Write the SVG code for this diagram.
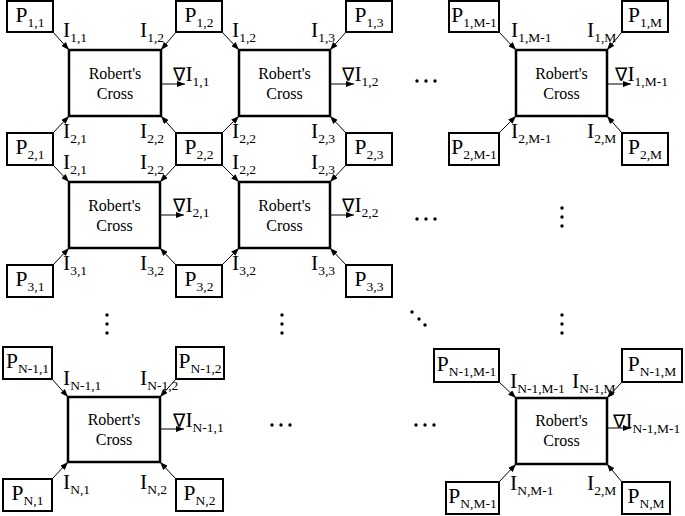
<svg xmlns="http://www.w3.org/2000/svg" width="685" height="516" viewBox="0 0 685 516">
<defs>
<marker id="ah" viewBox="0 0 8 6" refX="8" refY="3" markerWidth="8" markerHeight="6" markerUnits="userSpaceOnUse" orient="auto">
<path d="M0,0 L8,3 L0,6 z" fill="#000"/>
</marker>
<style>
.box{fill:#fff;stroke:#000;stroke-width:2.5}
.pbox{fill:#fff;stroke:#000;stroke-width:2}
text{font-family:"Liberation Serif","DejaVu Serif",serif;fill:#000}
.lbl{font-size:21.5px}
.pt{font-size:21.5px;text-anchor:middle}
.sub{font-size:13.5px}
.nab{font-family:"DejaVu Sans",sans-serif;font-size:18.5px}
.rc{font-size:16px;text-anchor:middle}
.conn line{stroke:#000;stroke-width:1;marker-end:url(#ah)}
.dots circle{fill:#000}
</style>
</defs>
<rect width="685" height="516" fill="#fff"/>

<!-- Robert's Cross nodes -->
<g id="rc11"><rect class="box" x="69" y="50" width="92" height="66"/><text class="rc" x="115" y="79">Robert's</text><text class="rc" x="115" y="99">Cross</text></g>
<g id="rc12"><rect class="box" x="239" y="50" width="91" height="66"/><text class="rc" x="284.5" y="79">Robert's</text><text class="rc" x="284.5" y="99">Cross</text></g>
<g id="rc1M"><rect class="box" x="516" y="50" width="91" height="66"/><text class="rc" x="561.5" y="79">Robert's</text><text class="rc" x="561.5" y="99">Cross</text></g>
<g id="rc21"><rect class="box" x="69" y="182" width="91" height="66"/><text class="rc" x="114.5" y="211">Robert's</text><text class="rc" x="114.5" y="231">Cross</text></g>
<g id="rc22"><rect class="box" x="239" y="182" width="91" height="66"/><text class="rc" x="284.5" y="211">Robert's</text><text class="rc" x="284.5" y="231">Cross</text></g>
<g id="rcN1"><rect class="box" x="68" y="397" width="92" height="65"/><text class="rc" x="114" y="425">Robert's</text><text class="rc" x="114" y="445">Cross</text></g>
<g id="rcNM"><rect class="box" x="516" y="398" width="91" height="66"/><text class="rc" x="561.5" y="426">Robert's</text><text class="rc" x="561.5" y="446">Cross</text></g>

<!-- Pixel nodes -->
<g id="p11"><rect class="pbox" x="7" y="1" width="46" height="31"/><text class="pt" x="30" y="22">P<tspan class="sub" dy="5">1,1</tspan></text></g>
<g id="p12"><rect class="pbox" x="176" y="1" width="46" height="31"/><text class="pt" x="199" y="22">P<tspan class="sub" dy="5">1,2</tspan></text></g>
<g id="p13"><rect class="pbox" x="346" y="1" width="46" height="31"/><text class="pt" x="369" y="22">P<tspan class="sub" dy="5">1,3</tspan></text></g>
<g id="p1Mm1"><rect class="pbox" x="449" y="1" width="50" height="31"/><text class="pt" x="474" y="22">P<tspan class="sub" dy="5">1,M-1</tspan></text></g>
<g id="p1M"><rect class="pbox" x="622" y="1" width="46" height="31"/><text class="pt" x="645" y="22">P<tspan class="sub" dy="5">1,M</tspan></text></g>

<g id="p21"><rect class="pbox" x="7" y="133" width="46" height="32"/><text class="pt" x="30" y="154">P<tspan class="sub" dy="5">2,1</tspan></text></g>
<g id="p22"><rect class="pbox" x="176" y="133" width="46" height="32"/><text class="pt" x="199" y="154">P<tspan class="sub" dy="5">2,2</tspan></text></g>
<g id="p23"><rect class="pbox" x="346" y="133" width="46" height="32"/><text class="pt" x="369" y="154">P<tspan class="sub" dy="5">2,3</tspan></text></g>
<g id="p2Mm1"><rect class="pbox" x="449" y="133" width="50" height="32"/><text class="pt" x="474" y="154">P<tspan class="sub" dy="5">2,M-1</tspan></text></g>
<g id="p2M"><rect class="pbox" x="622" y="133" width="46" height="32"/><text class="pt" x="645" y="154">P<tspan class="sub" dy="5">2,M</tspan></text></g>

<g id="p31"><rect class="pbox" x="7" y="265" width="46" height="32"/><text class="pt" x="30" y="286">P<tspan class="sub" dy="5">3,1</tspan></text></g>
<g id="p32"><rect class="pbox" x="176" y="265" width="46" height="32"/><text class="pt" x="199" y="286">P<tspan class="sub" dy="5">3,2</tspan></text></g>
<g id="p33"><rect class="pbox" x="346" y="265" width="46" height="32"/><text class="pt" x="369" y="286">P<tspan class="sub" dy="5">3,3</tspan></text></g>

<g id="pNm1_1"><rect class="pbox" x="3" y="347" width="49" height="32"/><text class="pt" x="27.5" y="368">P<tspan class="sub" dy="5">N-1,1</tspan></text></g>
<g id="pNm1_2"><rect class="pbox" x="176" y="347" width="48" height="32"/><text class="pt" x="200" y="368">P<tspan class="sub" dy="5">N-1,2</tspan></text></g>
<g id="pNm1_Mm1"><rect class="pbox" x="434" y="349" width="65" height="33"/><text class="pt" x="466.5" y="371">P<tspan class="sub" dy="5">N-1,M-1</tspan></text></g>
<g id="pNm1_M"><rect class="pbox" x="622" y="349" width="60" height="33"/><text class="pt" x="652" y="371">P<tspan class="sub" dy="5">N-1,M</tspan></text></g>

<g id="pN1"><rect class="pbox" x="3" y="479" width="49" height="32"/><text class="pt" x="27.5" y="500">P<tspan class="sub" dy="5">N,1</tspan></text></g>
<g id="pN2"><rect class="pbox" x="176" y="479" width="47" height="32"/><text class="pt" x="199.5" y="500">P<tspan class="sub" dy="5">N,2</tspan></text></g>
<g id="pNMm1"><rect class="pbox" x="446" y="482" width="53" height="32"/><text class="pt" x="472.5" y="503">P<tspan class="sub" dy="5">N,M-1</tspan></text></g>
<g id="pNM"><rect class="pbox" x="622" y="482" width="48" height="32"/><text class="pt" x="646" y="503">P<tspan class="sub" dy="5">N,M</tspan></text></g>

<!-- Connectors -->
<g id="connectors" class="conn">
<line x1="53" y1="32" x2="69" y2="50"/>
<line x1="176" y1="32" x2="161" y2="50"/>
<line x1="53" y1="133" x2="69" y2="116"/>
<line x1="176" y1="133" x2="161" y2="116"/>
<line x1="161" y1="84" x2="185" y2="84"/>

<line x1="222" y1="32" x2="239" y2="50"/>
<line x1="346" y1="32" x2="330" y2="50"/>
<line x1="222" y1="133" x2="239" y2="116"/>
<line x1="346" y1="133" x2="330" y2="116"/>
<line x1="330" y1="84" x2="354" y2="84"/>

<line x1="499" y1="32" x2="516" y2="50"/>
<line x1="622" y1="32" x2="607" y2="50"/>
<line x1="499" y1="133" x2="516" y2="116"/>
<line x1="622" y1="133" x2="607" y2="116"/>
<line x1="607" y1="84" x2="631" y2="84"/>

<line x1="53" y1="165" x2="69" y2="182"/>
<line x1="176" y1="165" x2="160" y2="182"/>
<line x1="53" y1="265" x2="69" y2="248"/>
<line x1="176" y1="265" x2="160" y2="248"/>
<line x1="160" y1="215" x2="184" y2="215"/>

<line x1="222" y1="165" x2="239" y2="182"/>
<line x1="346" y1="165" x2="330" y2="182"/>
<line x1="222" y1="265" x2="239" y2="248"/>
<line x1="346" y1="265" x2="330" y2="248"/>
<line x1="330" y1="215" x2="354" y2="215"/>

<line x1="52" y1="379" x2="68" y2="397"/>
<line x1="176" y1="379" x2="160" y2="397"/>
<line x1="52" y1="479" x2="68" y2="462"/>
<line x1="176" y1="479" x2="160" y2="462"/>
<line x1="160" y1="429" x2="184" y2="429"/>

<line x1="499" y1="382" x2="516" y2="398"/>
<line x1="622" y1="382" x2="607" y2="398"/>
<line x1="499" y1="482" x2="516" y2="464"/>
<line x1="622" y1="482" x2="607" y2="464"/>
<line x1="607" y1="428" x2="631" y2="428"/>
</g>

<!-- Connector labels -->
<g id="labels">
<text class="lbl" x="63" y="37">I<tspan class="sub" dy="5">1,1</tspan></text>
<text class="lbl" x="140" y="37">I<tspan class="sub" dy="5">1,2</tspan></text>
<text class="lbl" x="232" y="37">I<tspan class="sub" dy="5">1,2</tspan></text>
<text class="lbl" x="311" y="37">I<tspan class="sub" dy="5">1,3</tspan></text>
<text class="lbl" x="511" y="37">I<tspan class="sub" dy="5">1,M-1</tspan></text>
<text class="lbl" x="587" y="37">I<tspan class="sub" dy="5">1,M</tspan></text>

<text class="lbl" x="173" y="81"><tspan class="nab">∇</tspan>I<tspan class="sub" dy="5">1,1</tspan></text>
<text class="lbl" x="342" y="81"><tspan class="nab">∇</tspan>I<tspan class="sub" dy="5">1,2</tspan></text>
<text class="lbl" x="615" y="81"><tspan class="nab">∇</tspan>I<tspan class="sub" dy="5">1,M-1</tspan></text>

<text class="lbl" x="63" y="138">I<tspan class="sub" dy="5">2,1</tspan></text>
<text class="lbl" x="140" y="138">I<tspan class="sub" dy="5">2,2</tspan></text>
<text class="lbl" x="232" y="138">I<tspan class="sub" dy="5">2,2</tspan></text>
<text class="lbl" x="311" y="138">I<tspan class="sub" dy="5">2,3</tspan></text>
<text class="lbl" x="511" y="138">I<tspan class="sub" dy="5">2,M-1</tspan></text>
<text class="lbl" x="587" y="138">I<tspan class="sub" dy="5">2,M</tspan></text>

<text class="lbl" x="63" y="169">I<tspan class="sub" dy="5">2,1</tspan></text>
<text class="lbl" x="140" y="169">I<tspan class="sub" dy="5">2,2</tspan></text>
<text class="lbl" x="232" y="169">I<tspan class="sub" dy="5">2,2</tspan></text>
<text class="lbl" x="311" y="169">I<tspan class="sub" dy="5">2,3</tspan></text>

<text class="lbl" x="173" y="212"><tspan class="nab">∇</tspan>I<tspan class="sub" dy="5">2,1</tspan></text>
<text class="lbl" x="342" y="212"><tspan class="nab">∇</tspan>I<tspan class="sub" dy="5">2,2</tspan></text>

<text class="lbl" x="63" y="270">I<tspan class="sub" dy="5">3,1</tspan></text>
<text class="lbl" x="140" y="270">I<tspan class="sub" dy="5">3,2</tspan></text>
<text class="lbl" x="232" y="270">I<tspan class="sub" dy="5">3,2</tspan></text>
<text class="lbl" x="311" y="270">I<tspan class="sub" dy="5">3,3</tspan></text>

<text class="lbl" x="63" y="385">I<tspan class="sub" dy="5">N-1,1</tspan></text>
<text class="lbl" x="140" y="385">I<tspan class="sub" dy="5">N-1,2</tspan></text>
<text class="lbl" x="173" y="427"><tspan class="nab">∇</tspan>I<tspan class="sub" dy="5">N-1,1</tspan></text>
<text class="lbl" x="63" y="489">I<tspan class="sub" dy="5">N,1</tspan></text>
<text class="lbl" x="140" y="489">I<tspan class="sub" dy="5">N,2</tspan></text>

<text class="lbl" x="510" y="388">I<tspan class="sub" dy="5">N-1,M-1</tspan></text>
<text class="lbl" x="572" y="388">I<tspan class="sub" dy="5">N-1,M</tspan></text>
<text class="lbl" x="613" y="428"><tspan class="nab">∇</tspan>I<tspan class="sub" dy="5">N-1,M-1</tspan></text>
<text class="lbl" x="510" y="490">I<tspan class="sub" dy="5">N,M-1</tspan></text>
<text class="lbl" x="587" y="490">I<tspan class="sub" dy="5">2,M</tspan></text>
</g>

<!-- Ellipsis dots -->
<g id="dots" class="dots">
<circle cx="417" cy="81" r="1.7"/><circle cx="426" cy="81" r="1.7"/><circle cx="435" cy="81" r="1.7"/>
<circle cx="417" cy="219" r="1.7"/><circle cx="426" cy="219" r="1.7"/><circle cx="435" cy="219" r="1.7"/>
<circle cx="562" cy="208" r="1.7"/><circle cx="562" cy="217" r="1.7"/><circle cx="562" cy="226" r="1.7"/>
<circle cx="107" cy="315" r="1.7"/><circle cx="107" cy="324" r="1.7"/><circle cx="107" cy="333" r="1.7"/>
<circle cx="282" cy="315" r="1.7"/><circle cx="282" cy="324" r="1.7"/><circle cx="282" cy="333" r="1.7"/>
<circle cx="412" cy="312" r="1.7"/><circle cx="419" cy="319" r="1.7"/><circle cx="425" cy="325" r="1.7"/>
<circle cx="562" cy="315" r="1.7"/><circle cx="562" cy="324" r="1.7"/><circle cx="562" cy="333" r="1.7"/>
<circle cx="272" cy="425" r="1.7"/><circle cx="281" cy="425" r="1.7"/><circle cx="290" cy="425" r="1.7"/>
<circle cx="416" cy="425" r="1.7"/><circle cx="425" cy="425" r="1.7"/><circle cx="434" cy="425" r="1.7"/>
</g>
</svg>
